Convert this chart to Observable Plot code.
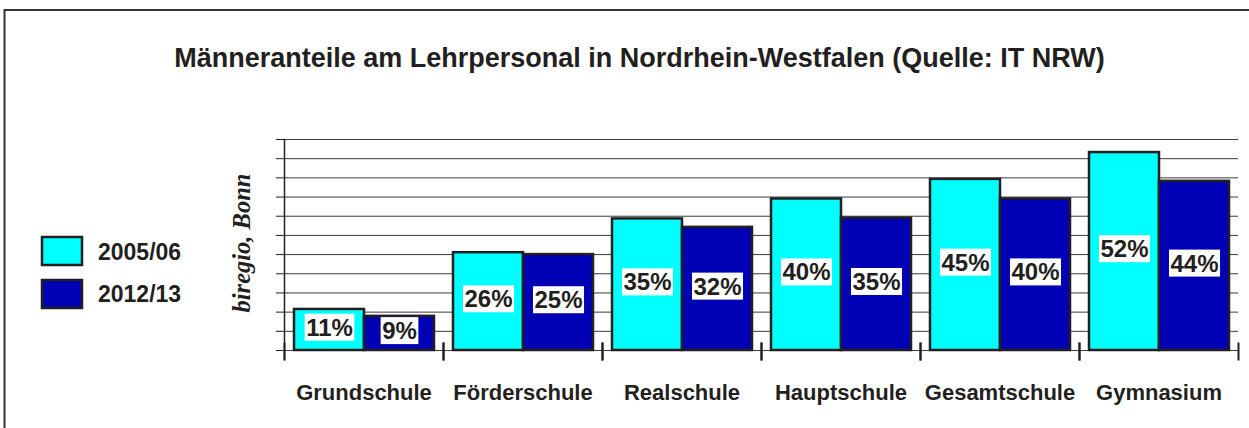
<!DOCTYPE html>
<html><head><meta charset="utf-8">
<script src="https://cdn.jsdelivr.net/npm/d3@7"></script>
<script src="https://cdn.jsdelivr.net/npm/@observablehq/plot@0.6"></script>
<style>
html,body{margin:0;padding:0;background:#fff}
#wrap{position:relative;width:1249px;height:428px;overflow:hidden;background:#fff}
#wrap > svg{position:absolute;left:0;top:0}
</style>
</head><body><div id="wrap"></div>
<script>
const categories = ["Grundschule","Förderschule","Realschule","Hauptschule","Gesamtschule","Gymnasium"];
const years = ["2005/06","2012/13"];
const values0506 = [10.7, 25.5, 34.3, 39.5, 44.6, 51.6];
const values1213 = [8.9, 25.0, 32.1, 34.5, 39.5, 44.1];
const labels0506 = ["11%","26%","35%","40%","45%","52%"];
const labels1213 = ["9%","25%","32%","35%","40%","44%"];
const gridTicks = [0,5,10,15,20,25,30,35,40,45,50,55];
const colors = ["#00FFFF","#0000B4"];
const titleText = "Männeranteile am Lehrpersonal in Nordrhein-Westfalen (Quelle: IT NRW)";
const creditText = "biregio, Bonn";

const ink = "#231F20";
const data = categories.flatMap((c, i) => [
  {cat: c, year: years[0], value: values0506[i], label: labels0506[i]},
  {cat: c, year: years[1], value: values1213[i], label: labels1213[i]}
]);

const chart = Plot.plot({
  width: 1249, height: 428,
  marginLeft: 283, marginRight: 11, marginTop: 139, marginBottom: 78,
  style: {fontFamily: "'Liberation Sans', Arial, sans-serif", background: "transparent", overflow: "visible", color: ink},
  fx: {domain: categories, paddingInner: 0, paddingOuter: 0, label: null},
  x: {domain: years, paddingInner: 0, paddingOuter: 0.128, axis: null},
  y: {domain: [0, 55]},
  color: {domain: years, range: colors},
  marks: [
    Plot.ruleY(gridTicks, {stroke: "#3a3a3a", strokeWidth: 1}),
    Plot.barY(data, {fx: "cat", x: "year", y: "value", fill: "year", stroke: ink, strokeWidth: 2.5}),
    Plot.frame({anchor: "left", insetTop: 204, insetBottom: -9, stroke: ink, strokeWidth: 2}),
    Plot.frame({anchor: "right", insetTop: 204, insetBottom: -9, stroke: ink, strokeWidth: 2}),
    Plot.frame({anchor: "left", facetAnchor: "left", insetBottom: -9, stroke: ink, strokeWidth: 1.5}),
    Plot.axisY({ticks: gridTicks, tickSize: 8, tickFormat: () => "", stroke: ink, label: null}),
    Plot.axisFx({anchor: "bottom", tickSize: 0, tickPadding: 34, fontSize: 22, fontWeight: "bold", fill: ink, label: null}),
    Plot.text(data, {fx: "cat", x: "year", y: d => d.value / 2, text: "label", fontSize: 24, fontWeight: "bold", fill: ink, dy: -2})
  ]
});

const wrap = document.getElementById("wrap");
wrap.append(chart);

// white boxes behind the value labels
d3.select(chart).selectAll('g[aria-label="text"] text').each(function() {
  const bb = this.getBBox();
  const r = document.createElementNS("http://www.w3.org/2000/svg", "rect");
  r.setAttribute("x", bb.x - 1.5);
  r.setAttribute("y", bb.y);
  r.setAttribute("width", bb.width + 3);
  r.setAttribute("height", bb.height);
  r.setAttribute("fill", "#fff");
  const t = this.getAttribute("transform");
  if (t) r.setAttribute("transform", t);
  this.parentNode.insertBefore(r, this);
});

// decoration overlay: frame, title, legend, credit
const ov = d3.select(wrap).append("svg")
  .attr("width", 1249).attr("height", 428)
  .style("pointer-events", "none")
  .attr("font-family", "'Liberation Sans', Arial, sans-serif");
ov.append("path").attr("d", "M4.5,1000V10H1300").attr("fill", "none").attr("stroke", "#333").attr("stroke-width", 2);
ov.append("text").attr("x", 639.5).attr("y", 67).attr("text-anchor", "middle")
  .attr("font-size", 27).attr("font-weight", "bold").attr("fill", ink).text(titleText);
years.forEach((y, i) => {
  ov.append("rect").attr("x", 42).attr("y", 237 + i * 43).attr("width", 40).attr("height", 28)
    .attr("fill", colors[i]).attr("stroke", ink).attr("stroke-width", 2.5);
  ov.append("text").attr("x", 98).attr("y", 260 + i * 42).attr("font-size", 23)
    .attr("font-weight", "bold").attr("fill", ink).text(y);
});
ov.append("text").attr("transform", "translate(250,243) rotate(-90)").attr("text-anchor", "middle")
  .attr("font-family", "'Liberation Serif', 'Times New Roman', serif").attr("font-style", "italic")
  .attr("font-weight", "bold").attr("font-size", 24.5).attr("fill", ink).text(creditText);
</script>
</body></html>
